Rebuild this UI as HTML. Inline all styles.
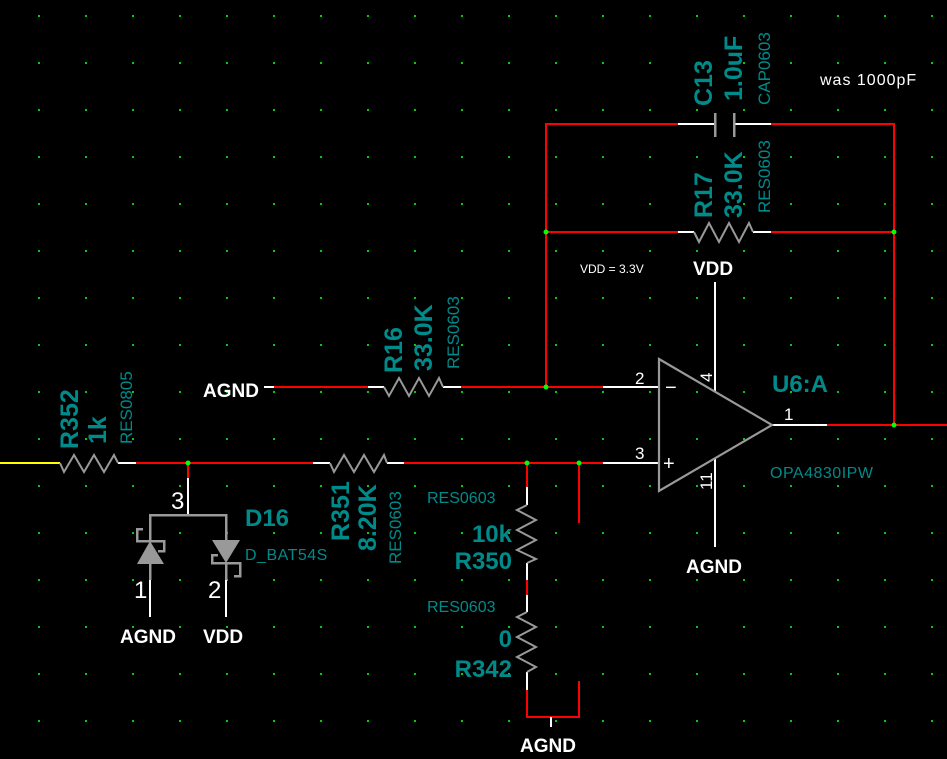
<!DOCTYPE html>
<html><head><meta charset="utf-8"><style>
html,body{margin:0;padding:0;background:#000;}
svg{display:block;}
text{font-family:"Liberation Sans",sans-serif;}
.t{fill:#008a8a;}
.t .b{font-weight:bold;}
.w{fill:#fff;}
</style></head><body>
<svg width="947" height="759" viewBox="0 0 947 759" xmlns="http://www.w3.org/2000/svg">
<defs>
<pattern id="g" x="0" y="0" width="47" height="47" patternUnits="userSpaceOnUse" patternTransform="translate(38,15)">
<rect x="0" y="0" width="2" height="2" fill="#00d000"/>
</pattern>
</defs>
<rect width="947" height="759" fill="#000"/>
<rect width="947" height="759" fill="url(#g)"/>

<g fill="none" stroke-width="1.6" shape-rendering="crispEdges">
<polyline points="678,124 546,124 546,386" stroke="#ff0000"/>
<polyline points="771,124 894,124 894,425" stroke="#ff0000"/>
<line x1="678" y1="124" x2="714" y2="124" stroke="#fff"/>
<line x1="735" y1="124" x2="771" y2="124" stroke="#fff"/>
<line x1="715" y1="113" x2="715" y2="137" stroke="#999" stroke-width="2.5"/>
<line x1="734" y1="113" x2="734" y2="137" stroke="#999" stroke-width="2.5"/>
<line x1="546" y1="232" x2="678" y2="232" stroke="#ff0000"/>
<line x1="771" y1="232" x2="894" y2="232" stroke="#ff0000"/>
<line x1="678" y1="232" x2="694" y2="232" stroke="#fff"/>
<line x1="753" y1="232" x2="771" y2="232" stroke="#fff"/>

<line x1="715" y1="282" x2="715" y2="392" stroke="#fff"/>
<line x1="715" y1="458" x2="715" y2="547" stroke="#fff"/>

<line x1="264" y1="387" x2="274" y2="387" stroke="#fff"/>
<line x1="274" y1="387" x2="368" y2="387" stroke="#ff0000"/>
<line x1="368" y1="387" x2="384" y2="387" stroke="#fff"/>
<line x1="443" y1="387" x2="461" y2="387" stroke="#fff"/>
<line x1="461" y1="387" x2="603" y2="387" stroke="#ff0000"/>
<line x1="603" y1="387" x2="659" y2="387" stroke="#fff"/>

<line x1="0" y1="463" x2="60" y2="463" stroke="#ffff00"/>
<line x1="118" y1="463" x2="136" y2="463" stroke="#fff"/>
<line x1="136" y1="463" x2="313" y2="463" stroke="#ff0000"/>
<line x1="313" y1="463" x2="330" y2="463" stroke="#fff"/>
<line x1="387" y1="463" x2="404" y2="463" stroke="#fff"/>
<line x1="404" y1="463" x2="603" y2="463" stroke="#ff0000"/>
<line x1="603" y1="463" x2="659" y2="463" stroke="#fff"/>
<line x1="579" y1="463" x2="579" y2="523" stroke="#ff0000"/>

<line x1="772" y1="425" x2="827" y2="425" stroke="#fff"/>
<line x1="827" y1="425" x2="947" y2="425" stroke="#ff0000"/>

<line x1="527" y1="463" x2="527" y2="487" stroke="#ff0000"/>
<line x1="527" y1="487" x2="527" y2="505" stroke="#fff"/>
<line x1="527" y1="563" x2="527" y2="580" stroke="#fff"/>
<line x1="527" y1="580" x2="527" y2="595" stroke="#ff0000"/>
<line x1="527" y1="595" x2="527" y2="612" stroke="#fff"/>
<line x1="527" y1="672" x2="527" y2="690" stroke="#fff"/>
<polyline points="527,690 527,717 579,717 579,681" stroke="#ff0000"/>
<line x1="551" y1="717" x2="551" y2="727" stroke="#fff"/>

<line x1="188" y1="463" x2="188" y2="478" stroke="#ff0000"/>
<line x1="188" y1="478" x2="188" y2="515" stroke="#fff"/>
<polyline points="150,541 150,515 226,515 226,540" stroke="#999" stroke-width="2.5"/>
<polyline points="143,529 137,529 137,541 164,541 164,551 158,551" stroke="#999" stroke-width="2.5"/>
<polyline points="218,555 212,555 212,563 240,563 240,576 234,576" stroke="#999" stroke-width="2.5"/>
<line x1="150" y1="564" x2="150" y2="580" stroke="#999" stroke-width="2.5"/>
<line x1="226" y1="563" x2="226" y2="580" stroke="#999" stroke-width="2.5"/>
<line x1="150" y1="580" x2="150" y2="617" stroke="#fff"/>
<line x1="226" y1="580" x2="226" y2="617" stroke="#fff"/>
</g>
<g fill="none" stroke="#999" stroke-width="2">
<polyline points="694,232 699,242 709,223 719,242 729,223 739,242 749,223 753,232"/>
<polyline points="384,387 389,396 399,378 409,396 419,378 429,396 439,378 443,387"/>
<polyline points="60,463 64,472 74,455 84,472 94,455 104,472 114,455 118,463"/>
<polyline points="330,463 334,472 344,455 354,472 364,455 374,472 384,455 387,463"/>
<polyline points="527,505 517,510 536,520 517,530 536,540 517,550 536,559 527,563"/>
<polyline points="527,612 517,617 536,627 517,637 536,647 517,657 536,667 527,672"/>
<polygon points="659,359 772,425 659,491" stroke-width="2.2"/>
</g>
<polygon points="150,541 137,564 164,564" fill="#999"/>
<polygon points="212,540 240,540 226,563" fill="#999"/>

<g fill="#00ff00">
<circle cx="546" cy="232" r="2.5"/><circle cx="894" cy="232" r="2.5"/>
<circle cx="546" cy="387" r="2.5"/><circle cx="894" cy="425" r="2.5"/>
<circle cx="188" cy="463" r="2.5"/><circle cx="527" cy="463" r="2.5"/><circle cx="579" cy="463" r="2.5"/>
</g>

<g class="t">
<text class="b" transform="translate(712,106) rotate(-90)" font-size="25">C13</text>
<text class="b" transform="translate(742,101) rotate(-90)" font-size="25">1.0uF</text>
<text transform="translate(770,105) rotate(-90)" font-size="17">CAP0603</text>
<text class="b" transform="translate(712,218) rotate(-90)" font-size="25">R17</text>
<text class="b" transform="translate(742,218) rotate(-90)" font-size="25">33.0K</text>
<text transform="translate(770,213) rotate(-90)" font-size="17">RES0603</text>
<text class="b" transform="translate(402,373) rotate(-90)" font-size="25">R16</text>
<text class="b" transform="translate(432,371) rotate(-90)" font-size="25">33.0K</text>
<text transform="translate(459,369) rotate(-90)" font-size="17">RES0603</text>
<text class="b" transform="translate(78,449) rotate(-90)" font-size="25">R352</text>
<text class="b" transform="translate(106,444) rotate(-90)" font-size="25">1k</text>
<text transform="translate(132,444) rotate(-90)" font-size="17">RES0805</text>
<text class="b" transform="translate(349,541) rotate(-90)" font-size="25">R351</text>
<text class="b" transform="translate(376,551) rotate(-90)" font-size="25">8.20K</text>
<text transform="translate(401,564) rotate(-90)" font-size="17">RES0603</text>
<text class="b" x="772" y="392" font-size="24">U6:A</text>
<text x="770" y="478" font-size="16" letter-spacing="0.5">OPA4830IPW</text>
<text class="b" x="245" y="526" font-size="24">D16</text>
<text x="245" y="560" font-size="16" letter-spacing="0.5">D_BAT54S</text>
<text x="427" y="503" font-size="16">RES0603</text>
<text class="b" x="512" y="542" font-size="24" text-anchor="end">10k</text>
<text class="b" x="512" y="569" font-size="24" text-anchor="end">R350</text>
<text x="427" y="612" font-size="16">RES0603</text>
<text class="b" x="512" y="647" font-size="24" text-anchor="end">0</text>
<text class="b" x="512" y="677" font-size="24" text-anchor="end">R342</text>
</g>

<g class="w">
<text x="820" y="85" font-size="16" letter-spacing="1">was 1000pF</text>
<text x="580" y="273" font-size="12">VDD = 3.3V</text>
<text x="693" y="275" font-size="19" font-weight="bold">VDD</text>
<text x="203" y="397" font-size="19" font-weight="bold">AGND</text>
<text x="686" y="573" font-size="19" font-weight="bold">AGND</text>
<text x="520" y="752" font-size="19" font-weight="bold">AGND</text>
<text x="120" y="643" font-size="19" font-weight="bold">AGND</text>
<text x="203" y="643" font-size="19" font-weight="bold">VDD</text>
<text x="635" y="384" font-size="17">2</text>
<text x="635" y="459" font-size="17">3</text>
<text x="784" y="420" font-size="17">1</text>
<text transform="translate(712,382) rotate(-90)" font-size="17">4</text>
<text transform="translate(712,490) rotate(-90)" font-size="17">11</text>
<text x="665" y="394" font-size="20">−</text>
<text x="663" y="470" font-size="20">+</text>
<text x="171" y="509" font-size="24">3</text>
<text x="134" y="598" font-size="24">1</text>
<text x="208" y="598" font-size="24">2</text>
</g>
</svg>
</body></html>
